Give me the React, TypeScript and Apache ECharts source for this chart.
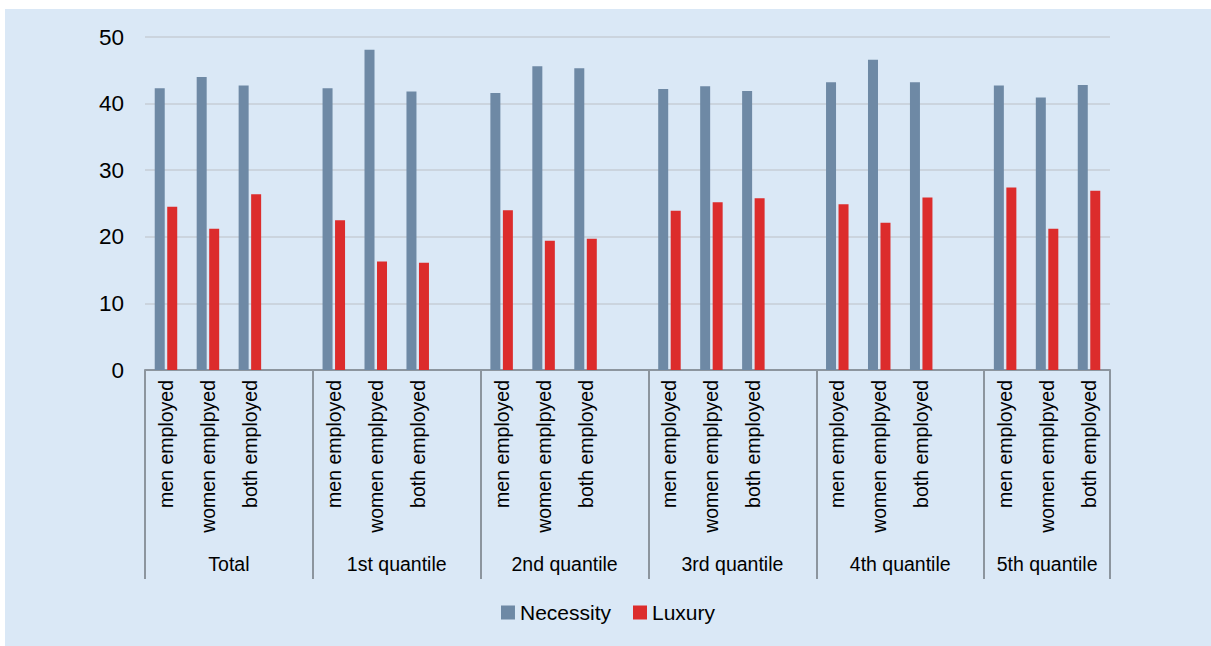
import React, { useEffect, useRef } from "react";
import * as echarts from "echarts";

const groups = ["Total", "1st quantile", "2nd quantile", "3rd quantile", "4th quantile", "5th quantile"];
const subCategories = ["men employed", "women emplpyed", "both employed"];

// values per group, in subCategories order
const necessity = [
  [42.3, 44.0, 42.7],
  [42.3, 48.1, 41.8],
  [41.6, 45.6, 45.3],
  [42.2, 42.6, 41.9],
  [43.2, 46.6, 43.2],
  [42.7, 40.9, 42.8],
];
const luxury = [
  [24.5, 21.2, 26.4],
  [22.5, 16.3, 16.1],
  [24.0, 19.4, 19.7],
  [23.9, 25.2, 25.8],
  [24.9, 22.1, 25.9],
  [27.4, 21.2, 26.9],
];
const yTicks = { min: 0, max: 50, interval: 10 };

const FONT = "'Liberation Sans', Arial, sans-serif";

export default function App() {
  const ref = useRef<HTMLDivElement>(null);

  useEffect(() => {
    if (!ref.current) return;
    const chart = echarts.init(ref.current, null, { renderer: "svg" });

    // main category axis: 3 categories per group plus a spacer between groups
    const cats: string[] = [];
    const necData: (number | string)[] = [];
    const luxData: (number | string)[] = [];
    groups.forEach((g, gi) => {
      subCategories.forEach((s, si) => {
        cats.push(s);
        necData.push(necessity[gi][si]);
        luxData.push(luxury[gi][si]);
      });
      if (gi < groups.length - 1) {
        cats.push("");
        necData.push("-");
        luxData.push("-");
      }
    });

    // secondary axis in half-category steps: points at every half category edge
    const n = cats.length; // 23
    const halfPoints: string[] = new Array(2 * n + 1).fill("");
    const separators: number[] = [];
    let start = 0;
    groups.forEach((g, gi) => {
      const size = gi < groups.length - 1 ? 4 : 3;
      const end = start + size;
      separators.push(start * 2);
      halfPoints[start + end] = g;
      start = end;
    });
    separators.push(n * 2);

    chart.setOption({
      animation: false,
      textStyle: { fontFamily: FONT },
      grid: { left: 140, right: 101, top: 28, bottom: 276 },
      legend: {
        data: ["Necessity", "Luxury"],
        bottom: 18,
        left: "center",
        itemWidth: 14,
        itemHeight: 14,
        itemGap: 22,
        icon: "rect",
        textStyle: { fontSize: 21, color: "#000", fontFamily: FONT },
      },
      xAxis: [
        {
          type: "category",
          data: cats,
          axisTick: { show: false },
          axisLine: { lineStyle: { color: "#8c959e", width: 2 } },
          axisLabel: {
            rotate: 90,
            interval: 0,
            margin: 10,
            fontSize: 19.5,
            color: "#000",
            fontFamily: FONT,
          },
        },
        {
          type: "category",
          position: "bottom",
          boundaryGap: false,
          data: halfPoints,
          axisLine: { show: false },
          axisTick: {
            show: true,
            length: 209,
            interval: (i: number) => separators.indexOf(i) >= 0,
            lineStyle: { color: "#8c959e", width: 2 },
          },
          axisLabel: {
            interval: 0,
            margin: 184,
            fontSize: 19.5,
            color: "#000",
            fontFamily: FONT,
          },
          splitLine: { show: false },
        },
      ],
      yAxis: {
        type: "value",
        min: yTicks.min,
        max: yTicks.max,
        interval: yTicks.interval,
        axisLine: { show: false },
        axisTick: { show: false },
        axisLabel: { fontSize: 22.5, color: "#000", margin: 21, fontFamily: FONT },
        splitLine: { lineStyle: { color: "#cbd4de", width: 2 } },
      },
      series: [
        {
          name: "Necessity",
          type: "bar",
          data: necData,
          barWidth: 10,
          barGap: "25%",
          itemStyle: { color: "#6e89a5" },
        },
        {
          name: "Luxury",
          type: "bar",
          data: luxData,
          barWidth: 10,
          itemStyle: { color: "#dc2c2c" },
        },
      ],
    });

    return () => chart.dispose();
  }, []);

  return (
    <div
      style={{
        position: "fixed",
        left: 5,
        top: 9,
        width: 1206,
        height: 637,
        background: "#dae8f6",
      }}
    >
      <div ref={ref} style={{ width: 1206, height: 637 }} />
    </div>
  );
}
